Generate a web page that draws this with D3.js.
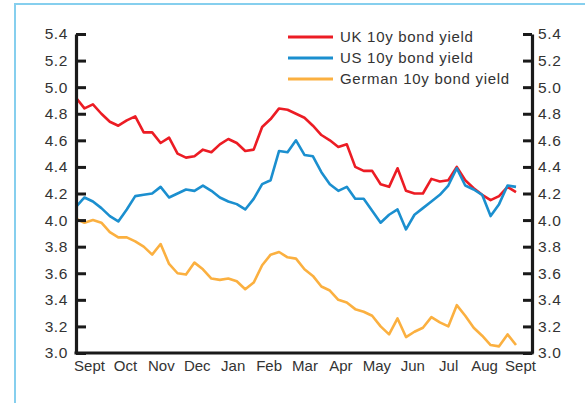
<!DOCTYPE html>
<html>
<head>
<meta charset="utf-8">
<script src="https://cdn.jsdelivr.net/npm/d3@7"></script>
<style>
  body { margin: 0; background: #fff; }
  svg text { font-family: "Liberation Sans", Arial, sans-serif; fill: #333; }
</style>
</head>
<body>
<svg id="chart" width="585" height="403"></svg>
<script>
// weekly readings, Sept to Sept
const ukYield = [4.92, 4.84, 4.87, 4.80, 4.74, 4.71, 4.75, 4.78, 4.66, 4.66, 4.58, 4.62, 4.50,
  4.47, 4.48, 4.53, 4.51, 4.57, 4.61, 4.58, 4.52, 4.53, 4.70, 4.76, 4.84, 4.83, 4.80,
  4.77, 4.71, 4.64, 4.60, 4.55, 4.57, 4.40, 4.37, 4.37, 4.27, 4.25, 4.39, 4.22, 4.20,
  4.20, 4.31, 4.29, 4.30, 4.40, 4.30, 4.24, 4.19, 4.15, 4.18, 4.25, 4.21];
const usYield = [4.10, 4.17, 4.14, 4.09, 4.03, 3.99, 4.08, 4.18, 4.19, 4.20, 4.25, 4.17, 4.20,
  4.23, 4.22, 4.26, 4.22, 4.17, 4.14, 4.12, 4.08, 4.16, 4.27, 4.30, 4.52, 4.51, 4.60,
  4.49, 4.48, 4.36, 4.27, 4.22, 4.25, 4.16, 4.16, 4.07, 3.98, 4.04, 4.08, 3.93, 4.04,
  4.09, 4.14, 4.19, 4.26, 4.39, 4.26, 4.23, 4.19, 4.03, 4.12, 4.26, 4.25];
const germanYield = [4.01, 3.98, 4.00, 3.98, 3.91, 3.87, 3.87, 3.84, 3.80, 3.74, 3.82, 3.67, 3.60,
  3.59, 3.68, 3.63, 3.56, 3.55, 3.56, 3.54, 3.48, 3.53, 3.66, 3.74, 3.76, 3.72, 3.71,
  3.63, 3.58, 3.50, 3.47, 3.40, 3.38, 3.33, 3.31, 3.28, 3.20, 3.14, 3.26, 3.12, 3.16,
  3.19, 3.27, 3.23, 3.20, 3.36, 3.28, 3.19, 3.13, 3.06, 3.05, 3.14, 3.06];
const months = ["Sept", "Oct", "Nov", "Dec", "Jan", "Feb", "Mar", "Apr", "May", "Jun", "Jul", "Aug", "Sept "];
const yTicks = [3.0, 3.2, 3.4, 3.6, 3.8, 4.0, 4.2, 4.4, 4.6, 4.8, 5.0, 5.2, 5.4];

const series = [
  { name: "UK 10y bond yield", values: ukYield, color: "#ec1c24" },
  { name: "US 10y bond yield", values: usYield, color: "#1b8fcf" },
  { name: "German 10y bond yield", values: germanYield, color: "#fbb040" }
];

const svg = d3.select("#chart");

// light blue frame
svg.append("rect")
  .attr("x", 15).attr("y", 4)
  .attr("width", 600).attr("height", 420)
  .attr("fill", "none")
  .attr("stroke", "#86cfee")
  .attr("stroke-width", 2);

const m = { left: 76, right: 532, top: 34, bottom: 353 };

const x = d3.scaleLinear().domain([0, ukYield.length - 1]).range([m.left, 516]);
const y = d3.scaleLinear().domain([3.0, 5.4]).range([m.bottom, m.top]);
const xMonth = d3.scalePoint().domain(months).range([89, 520]);

const line = d3.line()
  .x((d, i) => x(i))
  .y(d => y(d));

series.forEach(s => {
  svg.append("path")
    .datum(s.values)
    .attr("fill", "none")
    .attr("stroke", s.color)
    .attr("stroke-width", 2.6)
    .attr("stroke-linejoin", "round")
    .attr("d", line);
});

// axes
const yLeft = svg.append("g")
  .attr("transform", `translate(${m.left},0)`)
  .call(d3.axisLeft(y).tickValues(yTicks).tickFormat(d3.format(".1f"))
    .tickSize(-10).tickSizeOuter(0).tickPadding(8));

const yRight = svg.append("g")
  .attr("transform", `translate(${m.right},0)`)
  .call(d3.axisRight(y).tickValues(yTicks).tickFormat(d3.format(".1f"))
    .tickSize(-9).tickSizeOuter(0).tickPadding(6));

[yLeft, yRight].forEach(g => {
  g.select(".domain").attr("stroke", "#1a1a1a").attr("stroke-width", 3.2);
  g.selectAll(".tick line").attr("stroke", "#1a1a1a").attr("stroke-width", 3);
  g.selectAll(".tick text")
    .style("font-size", "15.5px")
    .style("letter-spacing", "0.6px")
    .attr("fill", "#2a2a2a");
});

svg.append("line")
  .attr("x1", m.left - 1.5).attr("x2", m.right + 1.5)
  .attr("y1", m.bottom).attr("y2", m.bottom)
  .attr("stroke", "#1a1a1a")
  .attr("stroke-width", 3.2);

const xAxis = svg.append("g")
  .attr("transform", `translate(0,${m.bottom + 3})`)
  .call(d3.axisBottom(xMonth).tickSize(0).tickPadding(4));
xAxis.select(".domain").remove();
xAxis.selectAll(".tick text").style("font-size", "15px").attr("fill", "#2a2a2a");

// legend
const legend = svg.append("g").attr("transform", "translate(288,37)");
series.forEach((s, i) => {
  const row = legend.append("g").attr("transform", `translate(0,${i * 21})`);
  row.append("line")
    .attr("x1", 0).attr("x2", 45)
    .attr("stroke", s.color)
    .attr("stroke-width", 3);
  row.append("text")
    .attr("x", 52).attr("dy", "0.35em")
    .style("font-size", "15px")
    .style("letter-spacing", "0.7px")
    .attr("fill", "#444")
    .text(s.name);
});
</script>
</body>
</html>
